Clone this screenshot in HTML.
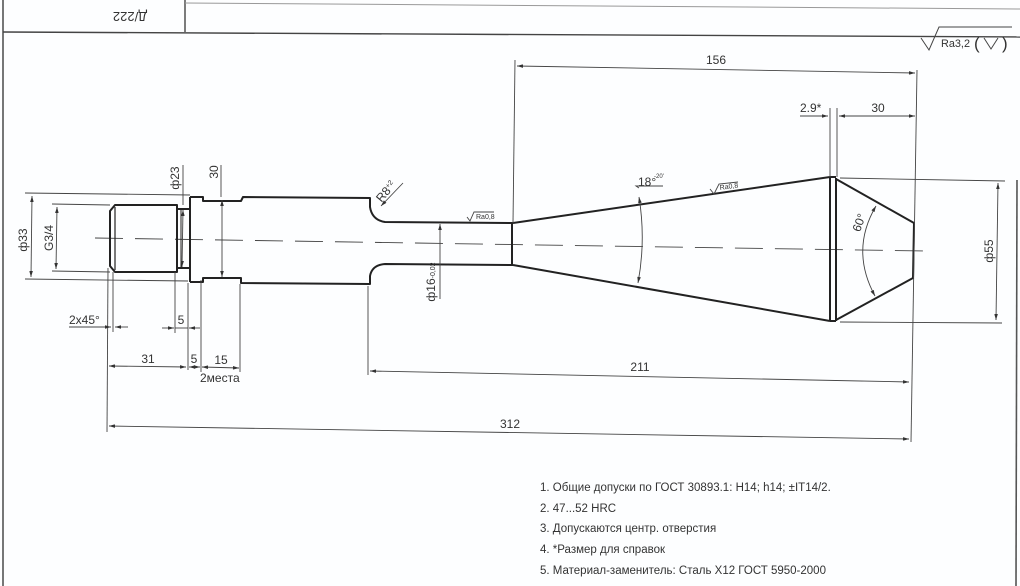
<!DOCTYPE html>
<html><head><meta charset="utf-8"><style>
html,body{margin:0;padding:0;background:#fdfeff;}
svg{display:block;}
text{font-family:"Liberation Sans","DejaVu Sans",sans-serif;fill:#333;}
</style></head><body>
<svg width="1020" height="586" viewBox="0 0 1020 586" xmlns="http://www.w3.org/2000/svg">
<defs>
<marker id="a" viewBox="0 0 10 6" refX="10" refY="3" markerWidth="8" markerHeight="4" orient="auto-start-reverse"><path d="M0,0 L10,3 L0,6 z" fill="#333"/></marker>
</defs>
<rect width="1020" height="586" fill="#fdfeff"/>
<g stroke="#444" fill="none">
<line x1="3" y1="0" x2="3" y2="586" stroke-width="1.6" stroke="#555"/>
<line x1="3" y1="32" x2="1020" y2="37" stroke-width="1.4"/>
<line x1="185" y1="0" x2="185" y2="32" stroke-width="1.4"/>
<line x1="185" y1="3" x2="1020" y2="9" stroke-width="1" stroke="#999"/>
<line x1="1017" y1="180" x2="1016" y2="586" stroke-width="1.6" stroke="#555"/>
</g>
<text x="130" y="22" font-size="13" text-anchor="middle" transform="rotate(180 130 17)">Д/222</text>
<g stroke="#444" fill="none" stroke-width="1">
<polyline points="921,38 929,50 939,27 1012,27"/>
<polyline points="984,38 991,49 998,38"/>
</g>
<text x="941" y="47" font-size="11" textLength="29" lengthAdjust="spacingAndGlyphs">Ra3,2</text>
<text x="974" y="49" font-size="17">(</text>
<text x="1002" y="49" font-size="17">)</text>

<line x1="95" y1="238" x2="925" y2="251" stroke="#444" stroke-width="0.9" stroke-dasharray="28,12"/>

<g stroke="#222" stroke-width="2" fill="none" stroke-linejoin="round">
<path d="M115,205 L177,205 L177,272 L115,272 L110,266 L110,211 Z"/>
<line x1="115" y1="207" x2="115" y2="270" stroke-width="1.2"/>
<path d="M177,209 L190,209 M177,268 L190,268"/>
<line x1="181" y1="209" x2="181" y2="268" stroke-width="1"/>
<path d="M190,197 L190,282"/>
<path d="M190,197 L203,197 L203,201 L241,201 L243,197 L370,198 L370,207 Q372,220 385,222 L512,223"/>
<path d="M190,282 L203,282 L203,278 L241,278 L241,283 L370,284 L370,276 Q372,265 385,264 L512,265"/>
<line x1="512" y1="222" x2="512" y2="266"/>
<path d="M513,223 L830,177 M513,265 L830,321"/>
<path d="M830,177 L830,321 M836,178 L836,321 M830,177 L836,177 M830,321 L836,321"/>
<path d="M836,179 L914,223 L913,278 L836,320"/>
</g>

<g stroke="#444" stroke-width="0.9" fill="none">
<line x1="515" y1="60" x2="513" y2="223"/>
<line x1="917" y1="70" x2="911" y2="442"/>
<line x1="830" y1="108" x2="830" y2="177"/>
<line x1="837" y1="108" x2="837" y2="177"/>
<line x1="840" y1="178" x2="1005" y2="181"/>
<line x1="840" y1="322" x2="1002" y2="323"/>
<line x1="368" y1="286" x2="368" y2="375"/>
<line x1="108" y1="268" x2="107" y2="432"/>
<line x1="113" y1="272" x2="113" y2="332"/>
<line x1="175" y1="272" x2="175" y2="333"/>
<line x1="188" y1="283" x2="188" y2="370"/>
<line x1="201" y1="280" x2="201" y2="372"/>
<line x1="240" y1="284" x2="240" y2="372"/>
<line x1="25" y1="193" x2="190" y2="195"/>
<line x1="25" y1="279" x2="188" y2="281"/>
<line x1="52" y1="204" x2="110" y2="205"/>
<line x1="52" y1="271" x2="110" y2="272"/>
<line x1="183" y1="165" x2="183" y2="205"/>
<line x1="221" y1="165" x2="221" y2="197"/>
<line x1="517" y1="66" x2="915" y2="73" marker-start="url(#a)" marker-end="url(#a)"/>
<line x1="800" y1="116" x2="828" y2="116" marker-end="url(#a)"/>
<line x1="839" y1="116" x2="915" y2="116" marker-start="url(#a)" marker-end="url(#a)"/>
<line x1="998" y1="183" x2="996" y2="320" marker-start="url(#a)" marker-end="url(#a)"/>
<line x1="370" y1="371" x2="909" y2="382" marker-start="url(#a)" marker-end="url(#a)"/>
<line x1="109" y1="426" x2="909" y2="439" marker-start="url(#a)" marker-end="url(#a)"/>
<line x1="109" y1="366" x2="186" y2="367" marker-start="url(#a)" marker-end="url(#a)"/>
<line x1="189" y1="367" x2="200" y2="367" marker-start="url(#a)" marker-end="url(#a)"/>
<line x1="202" y1="367" x2="239" y2="368" marker-start="url(#a)" marker-end="url(#a)"/>
<line x1="69" y1="327" x2="111" y2="327" marker-end="url(#a)"/>
<line x1="128" y1="327" x2="115" y2="327" marker-end="url(#a)"/>
<line x1="162" y1="328" x2="174" y2="328" marker-end="url(#a)"/>
<line x1="200" y1="328" x2="189" y2="328" marker-end="url(#a)"/>
<line x1="175" y1="328" x2="188" y2="328"/>
<line x1="32" y1="196" x2="31" y2="277" marker-start="url(#a)" marker-end="url(#a)"/>
<line x1="57" y1="207" x2="56" y2="269" marker-start="url(#a)" marker-end="url(#a)"/>
<line x1="183" y1="210" x2="182" y2="267" marker-start="url(#a)" marker-end="url(#a)"/>
<line x1="222" y1="200" x2="222" y2="277" marker-start="url(#a)" marker-end="url(#a)"/>
<line x1="440" y1="224" x2="440" y2="299" marker-start="url(#a)"/>
<line x1="403" y1="183" x2="381" y2="206" marker-end="url(#a)"/>
<path d="M639,197 Q646,240 638,283" marker-start="url(#a)" marker-end="url(#a)"/>
<polyline points="639,188 636,186 663,186"/>
<path d="M876,206 Q850,250 875,296" marker-start="url(#a)" marker-end="url(#a)"/>
<polyline points="467,217 470,221 474,212 494,212"/>
<polyline points="710,189 714,194 719,184 738,182"/>
</g>

<g font-size="12">
<text x="716" y="64" text-anchor="middle">156</text>
<text x="800" y="112">2.9*</text>
<text x="878" y="112" text-anchor="middle">30</text>
<text x="640" y="371" text-anchor="middle">211</text>
<text x="510" y="428" text-anchor="middle">312</text>
<text x="148" y="363" text-anchor="middle">31</text>
<text x="194" y="363" text-anchor="middle">5</text>
<text x="221" y="364" text-anchor="middle">15</text>
<text x="200" y="382">2места</text>
<text x="69" y="324">2x45°</text>
<text x="181" y="324" text-anchor="middle">5</text>
<text x="638" y="186">18°</text>
<text x="654" y="178" font-size="6">-20'</text>
<text transform="translate(27,240) rotate(-90)" text-anchor="middle">ф33</text>
<text transform="translate(53,238) rotate(-90)" text-anchor="middle">G3/4</text>
<text transform="translate(179,178) rotate(-90)" text-anchor="middle">ф23</text>
<text transform="translate(218,172) rotate(-90)" text-anchor="middle">30</text>
<text transform="translate(435,282) rotate(-90)" text-anchor="middle">ф16<tspan font-size="7">-0,02</tspan></text>
<text transform="translate(993,251) rotate(-90)" text-anchor="middle">ф55</text>
<text transform="translate(863,224) rotate(-70)" text-anchor="middle">60°</text>
<text transform="translate(389,194) rotate(-50)" text-anchor="middle">R8<tspan font-size="7" dy="-4">+2</tspan></text>
<text x="476" y="219" font-size="7">Ra0,8</text>
<text transform="translate(720,190) rotate(-8)" font-size="7">Ra0,8</text>
</g>

<g font-size="11.5">
<text x="540" y="491">1. Общие допуски по ГОСТ 30893.1: H14; h14; ±IT14/2.</text>
<text x="540" y="512">2. 47...52 HRC</text>
<text x="540" y="532">3. Допускаются центр. отверстия</text>
<text x="540" y="553">4. *Размер для справок</text>
<text x="540" y="574">5. Материал-заменитель: Сталь Х12 ГОСТ 5950-2000</text>
</g>
</svg>
</body></html>
